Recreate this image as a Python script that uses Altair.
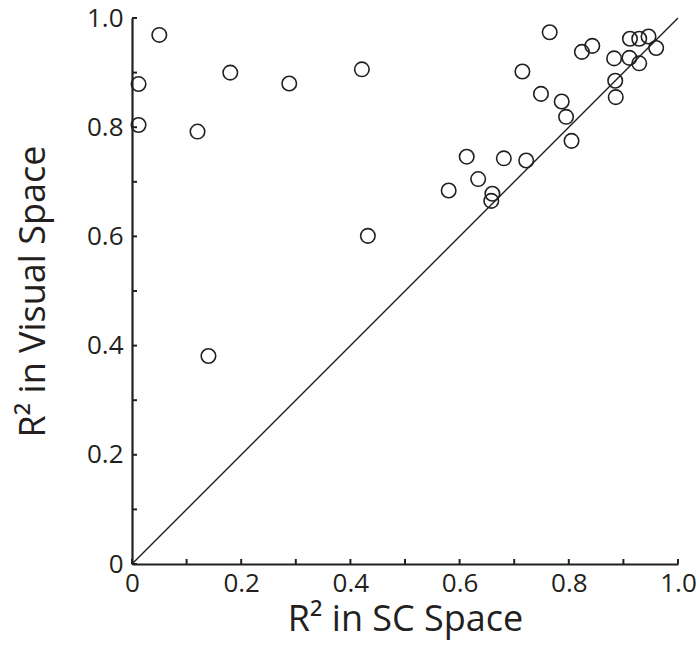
import altair as alt
import pandas as pd

# R^2 in SC space (x) and R^2 in visual space (y)
sc_r2 = [0.050, 0.012, 0.012, 0.180, 0.120, 0.288, 0.421, 0.432, 0.140,
         0.580, 0.765, 0.824, 0.843, 0.912, 0.929, 0.946, 0.960, 0.883,
         0.911, 0.929, 0.885, 0.886, 0.715, 0.749, 0.787, 0.795, 0.805,
         0.613, 0.681, 0.722, 0.634, 0.660, 0.658]
visual_r2 = [0.969, 0.879, 0.804, 0.900, 0.792, 0.880, 0.906, 0.601, 0.381,
             0.684, 0.974, 0.938, 0.949, 0.962, 0.962, 0.966, 0.945, 0.926,
             0.927, 0.917, 0.885, 0.855, 0.902, 0.861, 0.847, 0.819, 0.775,
             0.746, 0.743, 0.739, 0.705, 0.678, 0.665]

# identity line end points
diag_x = [0.0, 1.0]
diag_y = [0.0, 1.0]

# axis labels and minor tick positions
label_values = [0.0, 0.2, 0.4, 0.6, 0.8, 1.0]
tick_values = [0.0, 0.1, 0.2, 0.3, 0.4, 0.5, 0.6, 0.7, 0.8, 0.9, 1.0]

INK = "#231f20"
FONT = "Open Sans"

df = pd.DataFrame({"sc": sc_r2, "vis": visual_r2})
diag = pd.DataFrame({"sc": diag_x, "vis": diag_y})
ticks = pd.DataFrame({"sc": tick_values, "vis": tick_values})

scale = alt.Scale(domain=[0, 1], nice=False, zero=False)
label_expr = "datum.value == 0 ? '0' : format(datum.value, '.1f')"

x_axis = alt.Axis(values=label_values, labelExpr=label_expr, title="R² in SC Space",
                  ticks=False, tickSize=0, grid=False, domainWidth=2.2, domainColor=INK,
                  labelFont=FONT, labelFontSize=26, labelColor=INK, labelPadding=6,
                  labelFlush=False, labelOverlap=False,
                  titleFont=FONT, titleFontSize=36, titleFontWeight="normal",
                  titleColor=INK, titleBaseline="alphabetic", titleY=66)
y_axis = alt.Axis(values=label_values, labelExpr=label_expr, title="R² in Visual Space",
                  ticks=False, tickSize=0, grid=False, domainWidth=2.2, domainColor=INK,
                  labelFont=FONT, labelFontSize=26, labelColor=INK, labelPadding=9,
                  labelFlush=False, labelOverlap=False,
                  titleFont=FONT, titleFontSize=36, titleFontWeight="normal",
                  titleColor=INK, titleBaseline="alphabetic", titleX=-88)

X = alt.X("sc:Q", scale=scale, axis=x_axis)
Y = alt.Y("vis:Q", scale=scale, axis=y_axis)

points = alt.Chart(df).mark_point(shape="circle", filled=False, size=210,
                                  stroke=INK, strokeWidth=1.6, opacity=1,
                                  clip=False).encode(x=X, y=Y)

line = alt.Chart(diag).mark_line(color=INK, strokeWidth=1.4).encode(x=X, y=Y)

xticks = alt.Chart(ticks).mark_rule(color=INK, strokeWidth=2).encode(
    x=X, y=alt.value(546), y2=alt.value(541),
)
yticks = alt.Chart(ticks).mark_rule(color=INK, strokeWidth=2).encode(
    y=Y, x=alt.value(0), x2=alt.value(5),
)

chart = alt.layer(line, xticks, yticks, points).properties(
    width=546, height=546,
    padding={"left": 132, "top": 18, "right": 21, "bottom": 95},
    autosize=alt.AutoSizeParams(type="none"),
    background="white",
).configure_view(stroke=None)

chart.save("out.html", embed_options={"renderer": "svg", "actions": False})
